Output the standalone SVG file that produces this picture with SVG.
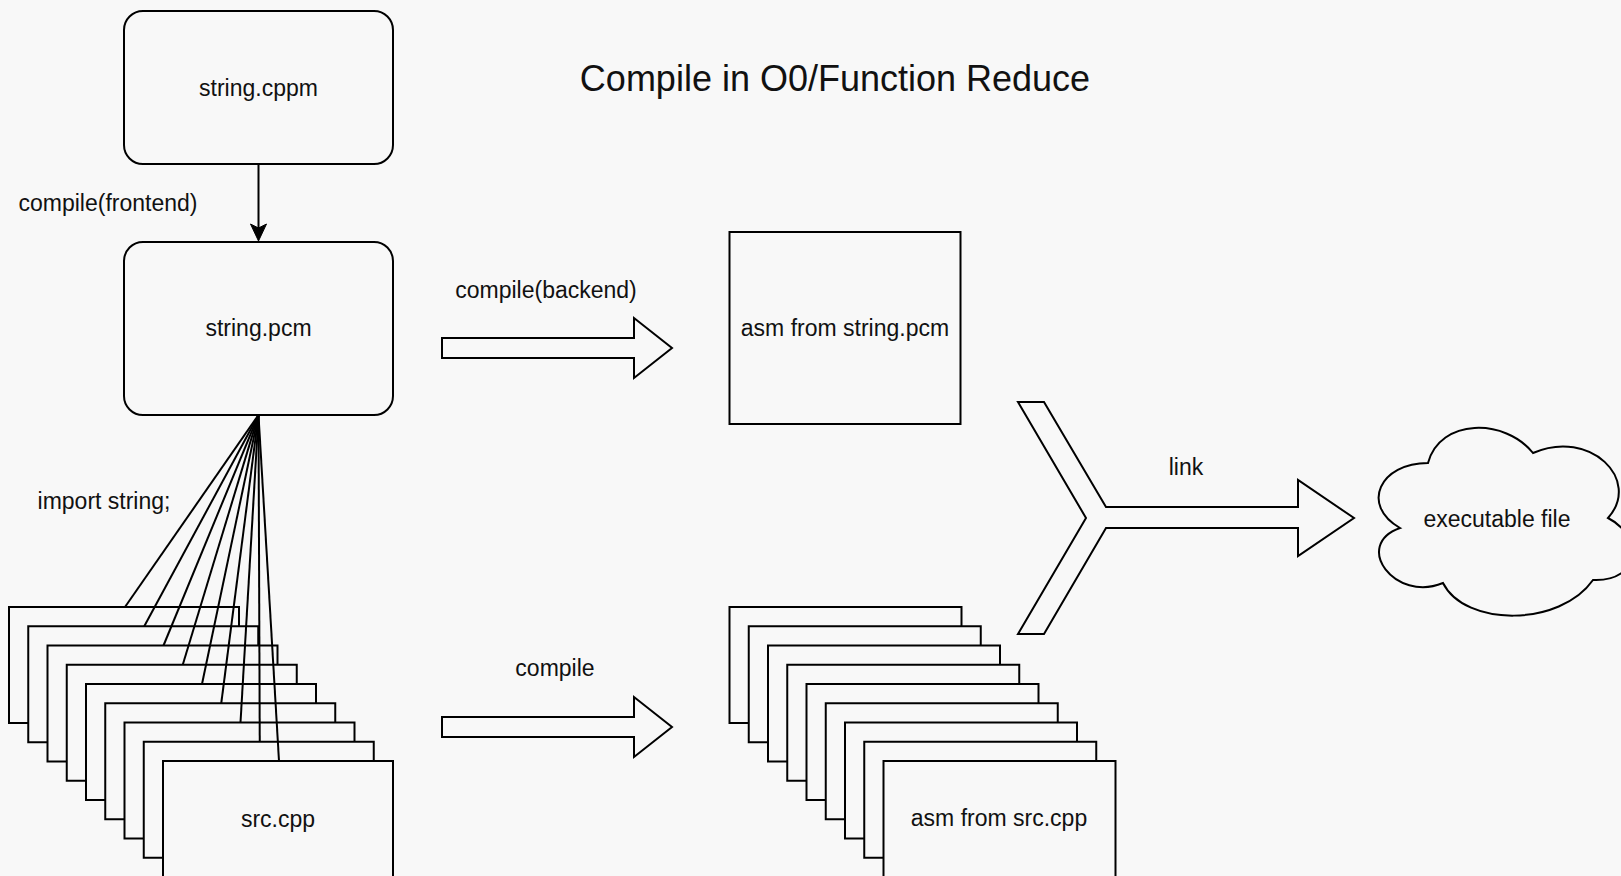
<svg xmlns="http://www.w3.org/2000/svg" width="1621" height="876" viewBox="0 0 1621 876">
<defs>
<style>
.bg{fill:#f8f8f8}
.box{fill:#f8f8f8;stroke:#000;stroke-width:2}
.ln{fill:none;stroke:#000;stroke-width:2}
.t{font-family:"Liberation Sans",Arial,Helvetica,sans-serif;font-size:23px;fill:#111;text-anchor:middle;dominant-baseline:central}
.title{font-size:36px}
</style>
</defs>
<rect class="bg" x="0" y="0" width="1621" height="876"/>
<text class="t title" x="835" y="78">Compile in O0/Function Reduce</text>

<g id="string-cppm">
<rect class="box" x="124" y="11" width="269" height="153" rx="19"/>
<text class="t" x="258.5" y="88">string.cppm</text>
</g>
<g id="string-pcm">
<rect class="box" x="124" y="242" width="269" height="173" rx="19"/>
<text class="t" x="258.5" y="328">string.pcm</text>
</g>
<g id="asm-string-pcm">
<rect class="box" x="729.5" y="232" width="231" height="192"/>
<text class="t" x="845" y="328">asm from string.pcm</text>
</g>

<g id="src-cpp-stack">
<rect class="box" x="9" y="607" width="230" height="116"/>
<rect class="box" x="28.25" y="626.25" width="230" height="116"/>
<rect class="box" x="47.5" y="645.5" width="230" height="116"/>
<rect class="box" x="66.75" y="664.75" width="230" height="116"/>
<rect class="box" x="86" y="684" width="230" height="116"/>
<rect class="box" x="105.25" y="703.25" width="230" height="116"/>
<rect class="box" x="124.5" y="722.5" width="230" height="116"/>
<rect class="box" x="143.75" y="741.75" width="230" height="116"/>
<rect class="box" x="163" y="761" width="230" height="116"/>
<text class="t" x="278" y="819">src.cpp</text>
</g>

<g id="asm-src-cpp-stack">
<rect class="box" x="729.5" y="607" width="232" height="116"/>
<rect class="box" x="748.75" y="626.25" width="232" height="116"/>
<rect class="box" x="768" y="645.5" width="232" height="116"/>
<rect class="box" x="787.25" y="664.75" width="232" height="116"/>
<rect class="box" x="806.5" y="684" width="232" height="116"/>
<rect class="box" x="825.75" y="703.25" width="232" height="116"/>
<rect class="box" x="845" y="722.5" width="232" height="116"/>
<rect class="box" x="864.25" y="741.75" width="232" height="116"/>
<rect class="box" x="883.5" y="761" width="232" height="116"/>
<text class="t" x="999" y="818">asm from src.cpp</text>
</g>

<g id="executable-file">
<path class="box" d="M 1428 463 C 1380 463 1360 505 1400 528 C 1352 545 1395 603 1443 583 C 1465 627 1560 627 1593 580 C 1642 582 1642 535 1608 518 C 1642 480 1590 428 1533 453 C 1505 418 1440 418 1428 463 Z"/>
<text class="t" x="1497" y="519">executable file</text>
</g>

<g id="connectors">
<line class="ln" x1="258.5" y1="164" x2="258.5" y2="230"/>
<path d="M258.5 241 L250.5 224 L258.5 228 L266.5 224 Z" fill="#000" stroke="#000" stroke-width="1"/>
<text class="t" x="108" y="203">compile(frontend)</text>

<line class="ln" x1="258.5" y1="415" x2="125" y2="607"/>
<line class="ln" x1="258.5" y1="415" x2="144.25" y2="626.25"/>
<line class="ln" x1="258.5" y1="415" x2="163.5" y2="645.5"/>
<line class="ln" x1="258.5" y1="415" x2="182.75" y2="664.75"/>
<line class="ln" x1="258.5" y1="415" x2="202" y2="684"/>
<line class="ln" x1="258.5" y1="415" x2="221.25" y2="703.25"/>
<line class="ln" x1="258.5" y1="415" x2="240.5" y2="722.5"/>
<line class="ln" x1="258.5" y1="415" x2="259.75" y2="741.75"/>
<line class="ln" x1="258.5" y1="415" x2="279" y2="761"/>
<text class="t" x="104" y="501">import string;</text>

<path class="box" d="M442 338 L634 338 L634 318 L672 348 L634 378 L634 358 L442 358 Z"/>
<text class="t" x="546" y="290">compile(backend)</text>

<path class="box" d="M442 717 L634 717 L634 697 L672 727 L634 757 L634 737 L442 737 Z"/>
<text class="t" x="555" y="668">compile</text>

<path class="box" d="M1018 402 L1044 402 L1106 507 L1298 507 L1298 480 L1354 518 L1298 556 L1298 528 L1106 528 L1044 634 L1018 634 L1086 518 Z"/>
<text class="t" x="1186" y="467">link</text>
</g>
</svg>
